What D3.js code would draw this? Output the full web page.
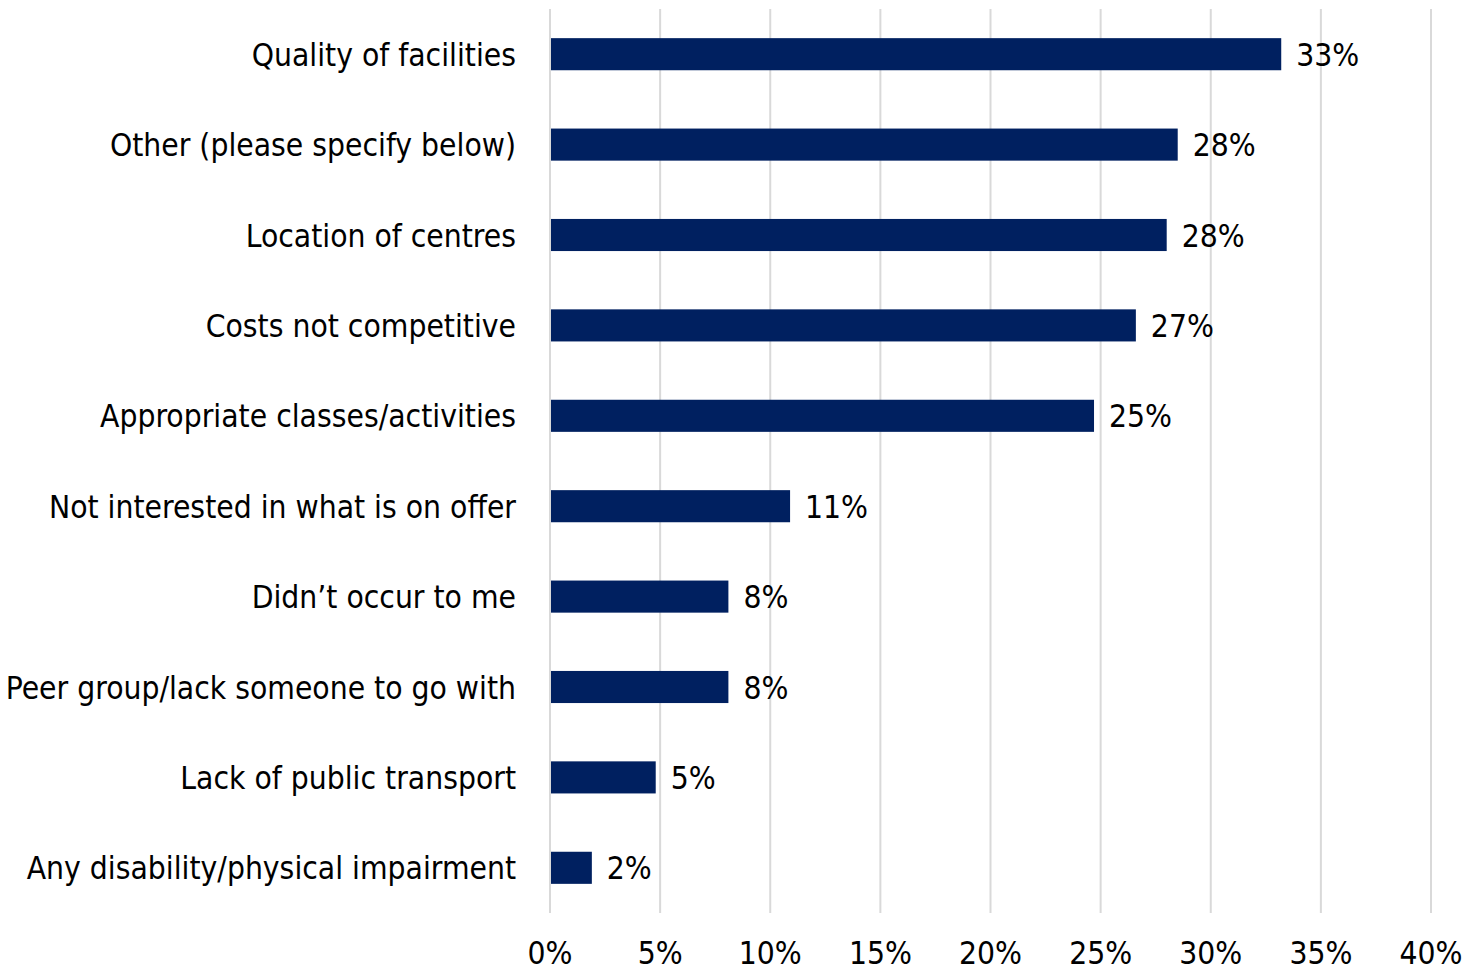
<!DOCTYPE html>
<html><head><meta charset="utf-8">
<script src="https://cdn.jsdelivr.net/npm/d3@7"></script>
<style>body{margin:0;background:#fff}svg{display:block}text{font-family:"DejaVu Sans Condensed","DejaVu Sans",sans-serif;fill:#000}</style>
</head><body><svg id="c" width="1482" height="971"></svg>
<script>
const categories = ["Quality of facilities","Other (please specify below)","Location of centres","Costs not competitive","Appropriate classes/activities","Not interested in what is on offer","Didn’t occur to me","Peer group/lack someone to go with","Lack of public transport","Any disability/physical impairment"];
const values = [33.2,28.5,28.0,26.6,24.7,10.9,8.1,8.1,4.8,1.9];
const valueLabels = ["33%","28%","28%","27%","25%","11%","8%","8%","5%","2%"];
const ticks = [0,5,10,15,20,25,30,35,40];

const svg = d3.select("#c");
const m = {left:550, right:1431, top:9, bottom:913};
const x = d3.scaleLinear().domain([0,40]).range([m.left, m.right]);
const y = d3.scaleBand().domain(categories).range([m.top, m.bottom]).paddingInner(0.645).paddingOuter(0.3225);
const fs = 31.5;

svg.append("g").selectAll("line").data(ticks).join("line")
  .attr("x1", d=>x(d)).attr("x2", d=>x(d)).attr("y1", m.top).attr("y2", m.bottom)
  .attr("stroke", "#d9d9d9").attr("stroke-width", 2);

svg.append("g").selectAll("rect").data(values).join("rect")
  .attr("x", x(0)+1).attr("y", (d,i)=>y(categories[i]))
  .attr("width", d=>x(d)-x(0)-1).attr("height", y.bandwidth())
  .attr("fill", "#002060");

svg.append("g").selectAll("text").data(values).join("text")
  .attr("x", d=>x(d)+15).attr("y", (d,i)=>y(categories[i])+y.bandwidth()/2)
  .attr("dy", "0.37em").style("font-size", fs+"px").text((d,i)=>valueLabels[i]);

svg.append("g").selectAll("text").data(categories).join("text")
  .attr("x", 516).attr("y", d=>y(d)+y.bandwidth()/2).attr("dy","0.37em")
  .attr("text-anchor","end").style("font-size", fs+"px").text(d=>d);

svg.append("g").selectAll("text").data(ticks).join("text")
  .attr("x", d=>x(d)).attr("y", 964).attr("text-anchor","middle")
  .style("font-size", fs+"px").text(d=>d+"%");
</script></body></html>
